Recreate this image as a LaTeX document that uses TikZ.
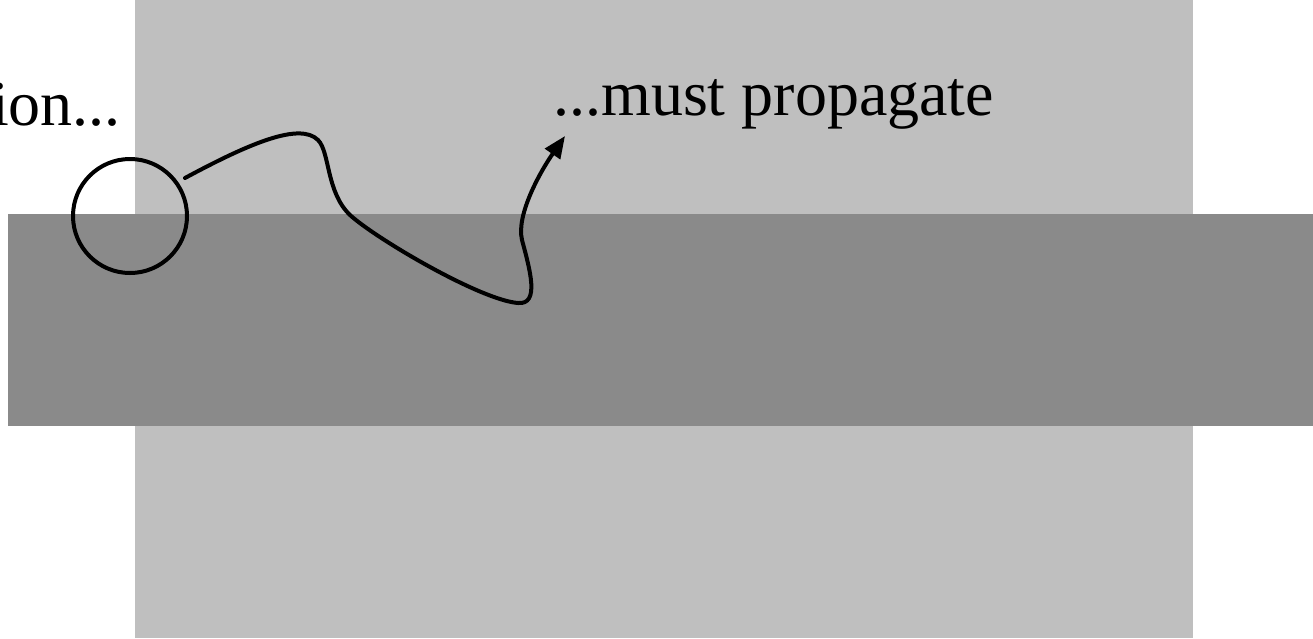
\documentclass[tikz,border=0pt]{standalone}
\usepackage{fontspec}
\setmainfont{Liberation Serif}
\usetikzlibrary{arrows.meta}
\definecolor{lightband}{HTML}{BFBFBF}
\definecolor{darkband}{HTML}{8A8A8A}
\tikzset{
  label text/.style={inner sep=0pt, font=\fontsize{64}{77}\selectfont},
  spot/.style={circle, draw=black, line width=4pt, minimum size=114pt, inner sep=0pt},
  wander/.style={line width=4pt, line cap=round, -{Triangle[length=22pt,width=18pt]}}
}
\begin{document}
\begin{tikzpicture}[x=1pt,y=-1pt]
  \useasboundingbox (0,0) rectangle (1313,638);
  % substrate and layer
  \fill[lightband] (135,0) rectangle (1193,638);
  \fill[darkband] (8,214) rectangle (1313,426);
  % labels
  \node[label text, anchor=base east] (left) at (121,125) {ion...};
  \node[label text, anchor=base west] (right) at (553,115) {...must propagate};
  % marked spot
  \node[spot] (c) at (130,216) {};
  % propagation path
  \coordinate (s) at (185,178);
  \coordinate (t) at (565,136);
  \draw[wander] (s) .. controls (250,143) and (300,122) .. (318,140)
    .. controls (330,152) and (326,192) .. (350,215)
    .. controls (375,238) and (480,300) .. (518,303)
    .. controls (540,305) and (530,270) .. (522,240)
    .. controls (516,215) and (540,172) .. (t);
\end{tikzpicture}
\end{document}
